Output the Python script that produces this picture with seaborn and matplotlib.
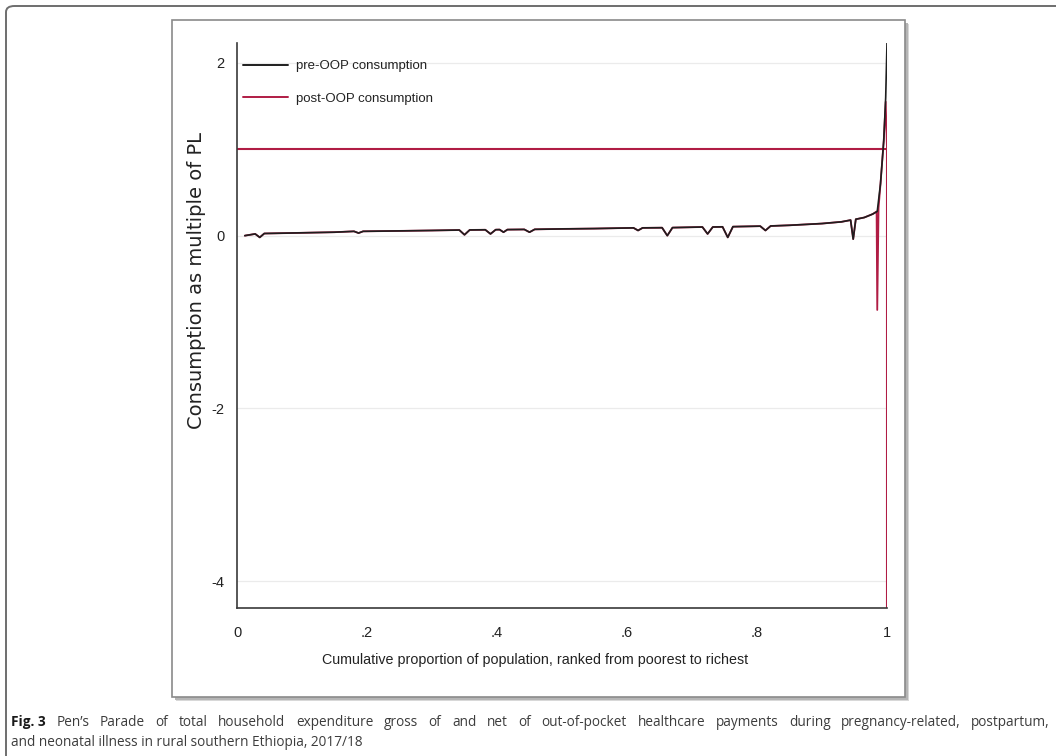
import matplotlib
matplotlib.use("Agg")
import matplotlib.pyplot as plt
import seaborn as sns
import pandas as pd
from matplotlib.patches import Rectangle, FancyBboxPatch
from matplotlib.lines import Line2D

# ---------------- data ----------------
x_pre = [0.012, 0.028, 0.035, 0.042, 0.08, 0.15, 0.180, 0.187, 0.194, 0.25, 0.30,
         0.342, 0.350, 0.358, 0.382, 0.390, 0.398, 0.404, 0.410, 0.416, 0.442, 0.450,
         0.458, 0.50, 0.55, 0.610, 0.617, 0.624, 0.654, 0.662, 0.670, 0.716, 0.724,
         0.732, 0.747, 0.755, 0.763, 0.805, 0.813, 0.821, 0.85, 0.90, 0.93, 0.944,
         0.948, 0.952, 0.965, 0.978, 0.985, 0.990, 0.995, 0.998, 1.0]
y_pre = [0.00, 0.02, -0.02, 0.025, 0.03, 0.04, 0.05, 0.03, 0.05, 0.055, 0.06,
         0.065, 0.01, 0.066, 0.068, 0.02, 0.069, 0.07, 0.04, 0.07, 0.072, 0.04,
         0.073, 0.078, 0.082, 0.09, 0.06, 0.09, 0.092, 0.00, 0.093, 0.10, 0.02,
         0.10, 0.102, -0.02, 0.104, 0.11, 0.06, 0.112, 0.12, 0.14, 0.16, 0.18,
         -0.04, 0.19, 0.21, 0.25, 0.28, 0.60, 1.10, 1.60, 2.23]

x_post = [0.012, 0.028, 0.035, 0.042, 0.08, 0.15, 0.180, 0.187, 0.194, 0.25, 0.30,
          0.342, 0.350, 0.358, 0.382, 0.390, 0.398, 0.404, 0.410, 0.416, 0.442, 0.450,
          0.458, 0.50, 0.55, 0.610, 0.617, 0.624, 0.654, 0.662, 0.670, 0.716, 0.724,
          0.732, 0.747, 0.755, 0.763, 0.805, 0.813, 0.821, 0.85, 0.90, 0.93, 0.944,
          0.948, 0.952, 0.965, 0.978, 0.984, 0.985, 0.987, 0.990, 0.995, 0.998, 1.0]
y_post = [0.00, 0.02, -0.02, 0.025, 0.03, 0.04, 0.05, 0.03, 0.05, 0.055, 0.06,
          0.065, 0.01, 0.066, 0.068, 0.02, 0.069, 0.07, 0.04, 0.07, 0.072, 0.04,
          0.073, 0.078, 0.082, 0.09, 0.06, 0.09, 0.092, 0.00, 0.093, 0.10, 0.02,
          0.10, 0.102, -0.02, 0.104, 0.11, 0.06, 0.112, 0.12, 0.14, 0.16, 0.18,
          -0.04, 0.19, 0.21, 0.25, 0.28, -0.86, 0.32, 0.60, 1.10, 1.55, 1.00]

# poverty line (multiple of PL = 1) and closing vertical at x = 1
pl_x = [0.0, 1.0, 1.0]
pl_y = [1.0, 1.0, -4.31]

x_ticks = [0, 0.2, 0.4, 0.6, 0.8, 1.0]
x_ticklabels = ["0", ".2", ".4", ".6", ".8", "1"]
y_ticks = [-4, -2, 0, 2]
y_ticklabels = ["-4", "-2", "0", "2"]

series_names = ["pre-OOP consumption", "post-OOP consumption"]
x_label = "Cumulative proportion of population, ranked from poorest to richest"
y_label = "Consumption as multiple of PL"
caption_bold = "Fig. 3"
caption_line1 = ("Pen\u2019s Parade of total household expenditure gross of and net of "
                 "out-of-pocket healthcare payments during pregnancy-related, postpartum,")
caption_line2 = "and neonatal illness in rural southern Ethiopia, 2017/18"

RED = "#b01c44"
BLACK = "#1e1e1e"

# ---------------- figure ----------------
sns.set_theme(style="white")
plt.rcParams["font.family"] = ["Liberation Sans", "DejaVu Sans"]

W, H = 1056, 756
fig = plt.figure(figsize=(W / 100, H / 100), dpi=100)
fig.patch.set_facecolor("white")

def fx(px):
    return px / W

def fy(py):
    return 1 - py / H

# outer rounded border (continues past right/bottom edges)
outer = FancyBboxPatch((fx(6), fy(800)), fx(1100) - fx(6), fy(6) - fy(800),
                       boxstyle="round,pad=0,rounding_size=0.008",
                       transform=fig.transFigure, facecolor="white",
                       edgecolor="#6e6e6e", linewidth=1.4, zorder=0)
fig.patches.append(outer)

# inner graph panel with soft shadow
for off, col in [(4, "#d8d8d8"), (2.5, "#b5b5b5")]:
    fig.patches.append(Rectangle((fx(172 + off), fy(697 + off)), fx(905) - fx(172),
                                 fy(20) - fy(697), transform=fig.transFigure,
                                 facecolor=col, edgecolor="none", zorder=1))
fig.patches.append(Rectangle((fx(172), fy(697)), fx(905) - fx(172), fy(20) - fy(697),
                             transform=fig.transFigure, facecolor="white",
                             edgecolor="#8a8a8a", linewidth=1.2, zorder=2))

ax = fig.add_axes([fx(237), fy(608), fx(887) - fx(237), fy(43) - fy(608)])
ax.set_zorder(3)
ax.patch.set_alpha(0)

for yv in y_ticks:
    ax.axhline(yv, color="#ebebeb", linewidth=0.9, zorder=0)

df_post = pd.DataFrame({"x": x_post, "y": y_post})
df_pre = pd.DataFrame({"x": x_pre, "y": y_pre})
df_pl = pd.DataFrame({"x": pl_x, "y": pl_y})

sns.lineplot(data=df_pl, x="x", y="y", ax=ax, color=RED, linewidth=1.5,
             sort=False, estimator=None, zorder=2)
sns.lineplot(data=df_post, x="x", y="y", ax=ax, color=RED, linewidth=1.3,
             sort=False, estimator=None, zorder=3)
sns.lineplot(data=df_pre, x="x", y="y", ax=ax, color=BLACK, linewidth=1.2,
             sort=False, estimator=None, zorder=4)

ax.set_xlim(0, 1)
ax.set_ylim(-4.31, 2.23)
ax.set_xticks(x_ticks)
ax.set_xticklabels(x_ticklabels)
ax.set_yticks(y_ticks)
ax.set_yticklabels(y_ticklabels)
ax.set_xlabel("")
ax.set_ylabel("")
for s in ["top", "right"]:
    ax.spines[s].set_visible(False)
for s in ["left", "bottom"]:
    ax.spines[s].set_color("#3a3a3a")
    ax.spines[s].set_linewidth(1.2)
ax.tick_params(axis="both", direction="out", length=5, width=1, color="#3a3a3a",
               labelsize=10.5, labelcolor="#222222")
ax.tick_params(axis="x", pad=8)
ax.tick_params(axis="y", pad=4)
ax.grid(False)

handles = [Line2D([0], [0], color=BLACK, lw=1.4), Line2D([0], [0], color=RED, lw=1.4)]
leg = ax.legend(handles, series_names, loc="upper left",
                bbox_to_anchor=(fx(243), fy(60)), bbox_transform=fig.transFigure,
                frameon=False, fontsize=9.5, handlelength=3.4, handletextpad=0.6,
                labelspacing=1.55, borderaxespad=0, borderpad=0)
for t in leg.get_texts():
    t.set_color("#222222")

fig.text(fx(535), fy(660), x_label, ha="center", va="center", fontsize=10.3,
         color="#222222")
fig.text(fx(197), fy(281), y_label, ha="center", va="center", rotation=90,
         fontsize=14, color="#222222", family=["DejaVu Sans"])

# caption (first line justified between left and right margins)
CAP_FS = 9.8
CAP_FAM = ["Open Sans", "DejaVu Sans"]
LEFT, RIGHT = 11, 1050
renderer = fig.canvas.get_renderer()
tb = fig.text(fx(LEFT), fy(722), caption_bold, ha="left", va="center", fontsize=CAP_FS,
              fontweight="bold", color="#1a1a1a", family=CAP_FAM)
words = caption_line1.split(" ")
word_texts = [fig.text(0, fy(722), w, ha="left", va="center", fontsize=CAP_FS,
                       color="#3c3c3c", family=CAP_FAM) for w in words]
widths = [t.get_window_extent(renderer=renderer).width for t in word_texts]
bw = tb.get_window_extent(renderer=renderer).width
gap = (RIGHT - LEFT - bw - sum(widths)) / len(words)
xpos = LEFT + bw + gap
for t, w in zip(word_texts, widths):
    t.set_x(fx(xpos))
    xpos += w + gap
fig.text(fx(LEFT), fy(742), caption_line2, ha="left", va="center", fontsize=CAP_FS,
         color="#3c3c3c", family=CAP_FAM)

fig.savefig("out.png", dpi=100)
